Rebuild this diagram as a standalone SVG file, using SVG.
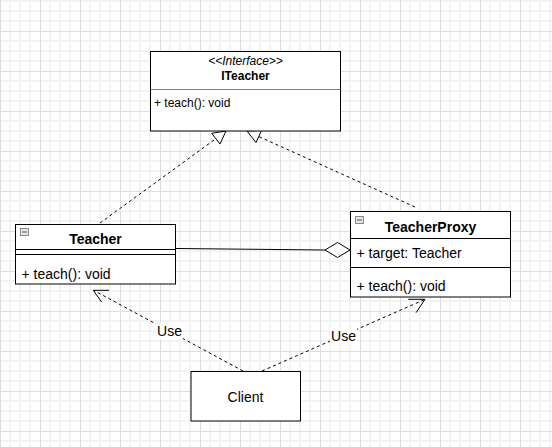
<svg xmlns="http://www.w3.org/2000/svg" width="552" height="447" viewBox="0 0 552 447">
  <style>
    .box { fill: #ffffff; stroke: #000000; stroke-width: 1; }
    .sep { stroke: #000000; stroke-width: 1; fill: none; }
    .sepg { stroke: #808080; stroke-width: 1; fill: none; }
    .t { font-family: "Liberation Sans", Arial, Helvetica, sans-serif; fill: #000000; }
    .title { font-size: 14px; font-weight: bold; text-anchor: middle; }
    .mem { font-size: 14px; }
    .small { font-size: 12px; }
    .dash { stroke: #000000; stroke-width: 1; fill: none; stroke-dasharray: 3 3; }
    .solid { stroke: #000000; stroke-width: 1; fill: none; }
    .head { fill: #ffffff; stroke: #000000; stroke-width: 1; }
    .open { fill: none; stroke: #000000; stroke-width: 1; }
    .icon { fill: #e6e6e6; stroke: #8a8a8a; stroke-width: 1; }
    .iconm { stroke: #555555; stroke-width: 1; }
  </style>
  <defs>
    <pattern id="grid" patternUnits="userSpaceOnUse" x="0" y="31" width="40" height="40">
      <rect width="40" height="40" fill="#ffffff"/>
      <path d="M10 0V40M20 0V40M30 0V40M0 10H40M0 20H40M0 30H40" stroke="#f3f3f3" stroke-width="2" fill="none"/>
      <path d="M0.5 0V40M0 0.5H40" stroke="#dddddd" stroke-width="1" fill="none"/>
    </pattern>
  </defs>
  <rect x="0" y="0" width="552" height="447" fill="url(#grid)"/>

  <g id="connectors">
    <!-- Teacher realizes ITeacher -->
    <line class="dash" x1="100" y1="223" x2="216" y2="138.6"/>
    <polygon class="head" points="226,131 211.7,133.3 220,144"/>
    <!-- TeacherProxy realizes ITeacher -->
    <line class="dash" x1="415" y1="207" x2="258.6" y2="136.5"/>
    <polygon class="head" points="247,131 261.5,130.5 256,142.5"/>
    <!-- Aggregation Teacher - TeacherProxy -->
    <line class="solid" x1="176" y1="248.5" x2="325" y2="250"/>
    <polygon class="head" points="325,250 337.5,242.5 350,250 337.5,257.5"/>
    <!-- Client uses Teacher -->
    <line class="dash" x1="243" y1="371" x2="94" y2="290.5"/>
    <polyline class="open" points="109,290.3 93.3,290.3 101.5,302"/>
    <!-- Client uses TeacherProxy -->
    <line class="dash" x1="262" y1="371" x2="424" y2="299.8"/>
    <polyline class="open" points="408.3,299.3 425,299.3 416,312.7"/>
    <rect x="156" y="323" width="27" height="16" fill="#ffffff"/>
    <text class="t mem" x="169.5" y="336" text-anchor="middle">Use</text>
    <rect x="330" y="328" width="27" height="16" fill="#ffffff"/>
    <text class="t mem" x="343.5" y="341" text-anchor="middle">Use</text>
  </g>

  <g id="ITeacher">
    <rect class="box" x="150.5" y="51.5" width="190" height="79.5"/>
    <line class="sepg" x1="150.5" y1="89.5" x2="340.5" y2="89.5"/>
    <text class="t small" x="245.5" y="65" text-anchor="middle" font-style="italic">&lt;&lt;Interface&gt;&gt;</text>
    <text class="t small" x="245.5" y="80" text-anchor="middle" font-weight="bold">ITeacher</text>
    <text class="t small" x="154" y="106.5">+ teach(): void</text>
  </g>

  <g id="Teacher">
    <rect class="box" x="15.5" y="224.5" width="160" height="59.5"/>
    <line class="sep" x1="15.5" y1="249.5" x2="175.5" y2="249.5"/>
    <line class="sep" x1="15.5" y1="254.5" x2="175.5" y2="254.5"/>
    <rect class="icon" x="20.5" y="228.5" width="8" height="7"/>
    <line class="iconm" x1="22" y1="232" x2="27" y2="232"/>
    <text class="t title" x="95.5" y="244">Teacher</text>
    <text class="t mem" x="21.5" y="279">+ teach(): void</text>
  </g>

  <g id="TeacherProxy">
    <rect class="box" x="350.5" y="211.5" width="160" height="85.5"/>
    <line class="sep" x1="350.5" y1="238.5" x2="510.5" y2="238.5"/>
    <line class="sep" x1="350.5" y1="267.5" x2="510.5" y2="267.5"/>
    <rect class="icon" x="355.5" y="216.5" width="8" height="7"/>
    <line class="iconm" x1="357" y1="220" x2="362" y2="220"/>
    <text class="t title" x="430.5" y="231.5">TeacherProxy</text>
    <text class="t mem" x="356.5" y="257.5">+ target: Teacher</text>
    <text class="t mem" x="356.5" y="291">+ teach(): void</text>
  </g>

  <g id="Client">
    <rect class="box" x="191" y="371.5" width="109.5" height="49.5"/>
    <text class="t mem" x="245.5" y="401.5" text-anchor="middle">Client</text>
  </g>
</svg>
